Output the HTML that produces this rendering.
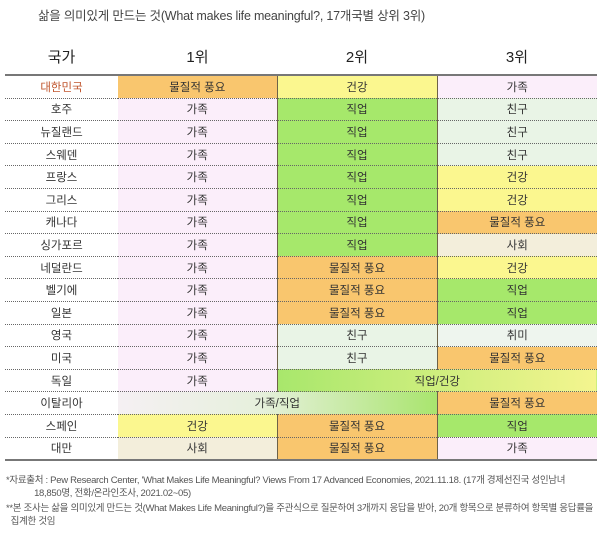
<!DOCTYPE html>
<html><head><meta charset="utf-8"><style>
body{margin:0;width:600px;height:534px;background:#fff;font-family:"Liberation Sans","Noto Sans CJK KR",sans-serif;color:#333;overflow:hidden;position:relative}
.title{position:absolute;left:38px;top:5px;font-size:12.5px;color:#444;letter-spacing:-0.2px}
table{position:absolute;left:5px;top:38px;width:592px;border-collapse:collapse;table-layout:fixed}
th{font-weight:normal;font-size:15px;height:34px;color:#222;border-bottom:2px solid #777}
td{height:21.6px;font-size:11.5px;text-align:center;border-bottom:1px dotted #666;padding:0}
tr:last-child td{border-bottom:2px solid #777}
td.c{border-right:1px solid #6d6248}
td:last-child{border-right:none}
.o{background:#f9c66e}.y{background:#fbf78f}.p{background:#fbeefa}.g{background:#a6e86b}.lg{background:#e9f4e6}.s{background:#f3eedb}.h{background:#eef5ee}
.gy{background:linear-gradient(90deg,#a8e76c,#f4f58f)}
.wg{background:linear-gradient(90deg,#f5f0f3,#e6f0dc 45%,#a9e56e)}
.kr{color:#c0562e}
.note{position:absolute;left:6px;font-size:9.5px;color:#555;line-height:13px;letter-spacing:-0.3px}
</style></head><body>
<div class="title">삶을 의미있게 만드는 것(What makes life meaningful?, 17개국별 상위 3위)</div>
<table>
<colgroup><col style="width:113px"><col style="width:159px"><col style="width:160px"><col style="width:160px"></colgroup>
<tr><th>국가</th><th>1위</th><th>2위</th><th>3위</th></tr>
<tr><td class="kr">대한민국</td><td class="c o">물질적 풍요</td><td class="c y">건강</td><td class="p">가족</td></tr>
<tr><td>호주</td><td class="c p">가족</td><td class="c g">직업</td><td class="lg">친구</td></tr>
<tr><td>뉴질랜드</td><td class="c p">가족</td><td class="c g">직업</td><td class="lg">친구</td></tr>
<tr><td>스웨덴</td><td class="c p">가족</td><td class="c g">직업</td><td class="lg">친구</td></tr>
<tr><td>프랑스</td><td class="c p">가족</td><td class="c g">직업</td><td class="y">건강</td></tr>
<tr><td>그리스</td><td class="c p">가족</td><td class="c g">직업</td><td class="y">건강</td></tr>
<tr><td>캐나다</td><td class="c p">가족</td><td class="c g">직업</td><td class="o">물질적 풍요</td></tr>
<tr><td>싱가포르</td><td class="c p">가족</td><td class="c g">직업</td><td class="s">사회</td></tr>
<tr><td>네덜란드</td><td class="c p">가족</td><td class="c o">물질적 풍요</td><td class="y">건강</td></tr>
<tr><td>벨기에</td><td class="c p">가족</td><td class="c o">물질적 풍요</td><td class="g">직업</td></tr>
<tr><td>일본</td><td class="c p">가족</td><td class="c o">물질적 풍요</td><td class="g">직업</td></tr>
<tr><td>영국</td><td class="c p">가족</td><td class="c lg">친구</td><td class="h">취미</td></tr>
<tr><td>미국</td><td class="c p">가족</td><td class="c lg">친구</td><td class="o">물질적 풍요</td></tr>
<tr><td>독일</td><td class="c p">가족</td><td colspan="2" class="gy">직업/건강</td></tr>
<tr><td>이탈리아</td><td colspan="2" class="c wg">가족/직업</td><td class="o">물질적 풍요</td></tr>
<tr><td>스페인</td><td class="c y">건강</td><td class="c o">물질적 풍요</td><td class="g">직업</td></tr>
<tr><td>대만</td><td class="c s">사회</td><td class="c o">물질적 풍요</td><td class="p">가족</td></tr>
</table>
<div class="note" style="top:474px">*자료출처 : Pew Research Center, 'What Makes Life Meaningful? Views From 17 Advanced Economies, 2021.11.18. (17개 경제선진국 성인남녀<br>&nbsp;&nbsp;&nbsp;&nbsp;&nbsp;&nbsp;&nbsp;&nbsp;&nbsp;&nbsp;&nbsp;&nbsp;18,850명, 전화/온라인조사, 2021.02~05)</div>
<div class="note" style="top:502px">**본 조사는 삶을 의미있게 만드는 것(What Makes Life Meaningful?)을 주관식으로 질문하여 3개까지 응답을 받아, 20개 항목으로 분류하여 항목별 응답률을<br>&nbsp;&nbsp;집계한 것임</div>
</body></html>
